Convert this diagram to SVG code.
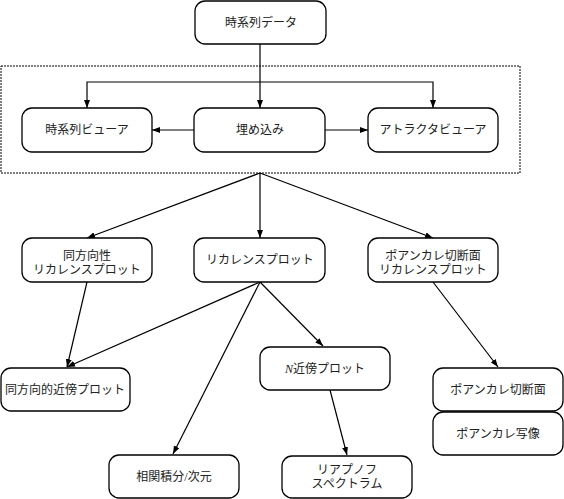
<svg xmlns="http://www.w3.org/2000/svg" width="564" height="499" viewBox="0 0 564 499">
<defs>
<marker id="ah" viewBox="0 0 8 6" refX="8" refY="3" markerWidth="8" markerHeight="6" markerUnits="userSpaceOnUse" orient="auto">
<path d="M0,0 L8,3 L0,6 z" fill="#000"/>
</marker>
<style>
.n{fill:#fff;stroke:#000;stroke-width:1.3}
.t{font-family:"Liberation Serif","Noto Sans CJK JP",serif;font-size:12px;fill:#222;text-anchor:middle}
.c{stroke:#000;stroke-width:1.2;fill:none;marker-end:url(#ah)}
</style>
</defs>
<rect x="1" y="66" width="519" height="107" fill="none" stroke="#000" stroke-width="1" stroke-dasharray="2,1"/>
<g id="connectors">
<line class="c" x1="260" y1="44" x2="260" y2="108"/>
<polyline class="c" points="260,82 87,82 87,108"/>
<polyline class="c" points="260,82 433,82 433,108"/>
<line class="c" x1="194" y1="130" x2="152" y2="130"/>
<line class="c" x1="325" y1="130" x2="368" y2="130"/>
<line class="c" x1="260" y1="173" x2="87" y2="238"/>
<line class="c" x1="260" y1="173" x2="260" y2="238"/>
<line class="c" x1="260" y1="173" x2="433" y2="238"/>
<line class="c" x1="87" y1="282" x2="67" y2="367"/>
<line class="c" x1="260" y1="282" x2="67" y2="367"/>
<line class="c" x1="260" y1="282" x2="173" y2="454"/>
<line class="c" x1="260" y1="282" x2="323" y2="346"/>
<line class="c" x1="330" y1="390" x2="347" y2="455"/>
<line class="c" x1="433" y1="282" x2="498" y2="367"/>
</g>
<g id="n_ts"><rect class="n" x="195" y="1" width="131" height="43" rx="10"/><text class="t" x="261" y="27">時系列データ</text></g>
<g id="n_tsv"><rect class="n" x="22" y="108" width="130" height="44" rx="10"/><text class="t" x="87" y="134">時系列ビューア</text></g>
<g id="n_emb"><rect class="n" x="194" y="108" width="131" height="44" rx="10"/><text class="t" x="260" y="134">埋め込み</text></g>
<g id="n_atv"><rect class="n" x="368" y="108" width="130" height="44" rx="10"/><text class="t" x="433" y="134">アトラクタビューア</text></g>
<g id="n_irp"><rect class="n" x="22" y="238" width="130" height="44" rx="10"/><text class="t" x="87" y="260">同方向性</text><text class="t" x="87" y="274">リカレンスプロット</text></g>
<g id="n_rp"><rect class="n" x="194" y="238" width="131" height="44" rx="10"/><text class="t" x="260" y="264">リカレンスプロット</text></g>
<g id="n_prp"><rect class="n" x="368" y="238" width="130" height="44" rx="10"/><text class="t" x="433" y="260">ポアンカレ切断面</text><text class="t" x="433" y="274">リカレンスプロット</text></g>
<g id="n_inp"><rect class="n" x="1" y="368" width="129" height="43" rx="10"/><text class="t" x="65" y="394">同方向的近傍プロット</text></g>
<g id="n_nnp"><rect class="n" x="260" y="347" width="130" height="43" rx="10"/><text class="t" x="325" y="373"><tspan font-style="italic">N</tspan>近傍プロット</text></g>
<g id="n_ps"><rect class="n" x="433" y="368" width="130" height="43" rx="10"/><text class="t" x="498" y="394">ポアンカレ切断面</text></g>
<g id="n_pm"><rect class="n" x="433" y="412" width="130" height="43" rx="10"/><text class="t" x="498" y="438">ポアンカレ写像</text></g>
<g id="n_cd"><rect class="n" x="109" y="455" width="130" height="43" rx="10"/><text class="t" x="174" y="481">相関積分/次元</text></g>
<g id="n_ly"><rect class="n" x="282" y="456" width="130" height="42" rx="10"/><text class="t" x="347" y="474">リアプノフ</text><text class="t" x="347" y="488">スペクトラム</text></g>
</svg>
